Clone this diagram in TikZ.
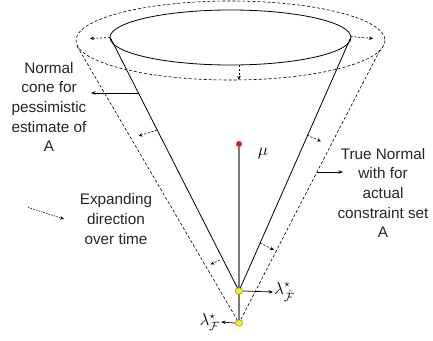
\documentclass[tikz,border=0pt]{standalone}
\usepackage{fontspec}
\setmainfont{Liberation Sans}
\usepackage{amsmath,amssymb}
\usetikzlibrary{arrows.meta,positioning,shapes.geometric}
\definecolor{DotRed}{HTML}{E8141B}
\definecolor{DotYellow}{HTML}{F5EE1A}
\definecolor{AxisGray}{HTML}{7A7A7A}
\begin{document}
\begin{tikzpicture}[x=1pt,y=-1pt,
  lbl/.style={align=center,font=\fontsize{15.3}{19.6}\selectfont,text=black!85},
  ydot/.style={ellipse,draw=black!55,fill=DotYellow,minimum width=8pt,minimum height=6.5pt,inner sep=0pt},
  rdot/.style={circle,draw=black!40,fill=DotRed,minimum size=6pt,inner sep=0pt},
  nrm/.style={-{Stealth[length=4pt,width=3.5pt]},dash pattern=on 2.2pt off 1.6pt,line width=0.6pt},
  arr/.style={-{Stealth[length=4.5pt,width=3.5pt]},line width=0.7pt},
  solidln/.style={line width=0.8pt},
  dashln/.style={line width=0.6pt,dash pattern=on 3pt off 2pt}]
\useasboundingbox (0,0) rectangle (433,340);
% apexes and rim points
\coordinate (apin) at (239,291);
\coordinate (apout) at (239,323);
\coordinate (inL) at (110.5,38);
\coordinate (inR) at (350.5,38);
\coordinate (outL) at (77,46);
\coordinate (outR) at (381,48);
% cones
\draw[dashln] (230.5,40.5) ellipse [x radius=154.5, y radius=39.5];
\draw[solidln] (230.5,37.5) ellipse [x radius=120.5, y radius=27.5];
\draw[solidln] (inL) -- (apin) -- (inR);
\draw[dashln] (outL) -- (apout) -- (outR);
% mu axis
\coordinate (mupt) at (239,144);
\draw[AxisGray,line width=1.3pt] (mupt) -- (apout);
% expanding normals
\foreach \a/\b in {{110,37.5}/{90,38.5},{350.5,36.5}/{373,38.5},{239,65}/{239,80},
  {157,130}/{138.5,136},{220,260}/{210.5,264.5},{307,135}/{321,141.5},{260,243}/{274,250}}{
  \draw[nrm] (\a) -- (\b);
}
% labels
\node[lbl] (ncone) at (49,107) {Normal\\cone for\\pessimistic\\estimate of\\A};
\node[lbl] (expand) at (116,219) {Expanding\\direction\\over time};
\node[lbl] (tnorm) at (383,193) {True Normal\\with for\\actual\\constraint set\\A};
\coordinate (nconeS) at (138,93);
\coordinate (nconeE) at (91,93);
\draw[arr] (nconeS) -- (nconeE);
\coordinate (tnormS) at (317,172);
\coordinate (tnormE) at (343,172);
\draw[arr] (tnormS) -- (tnormE);
\coordinate (expS) at (28,207.5);
\coordinate (expE) at (64,219);
\draw[-{Stealth[length=4pt,width=3.5pt]},dash pattern=on 1.5pt off 1.2pt,line width=0.6pt] (expS) -- (expE);
% points
\node[rdot] (mu) at (mupt) {};
\node[ydot] (lamhat) at (apin) {};
\node[ydot] (lam) at (apout) {};
\node[font=\fontsize{19}{19}\selectfont] (mulbl) at (263,153) {$\mu$};
\node[font=\fontsize{17}{17}\selectfont,anchor=west,inner sep=1pt] (lamhatlbl) at (273,292) {$\lambda^\star_{\hat{\mathcal{F}}}$};
\node[font=\fontsize{17}{17}\selectfont,anchor=east,inner sep=1pt] (lamlbl) at (221,322) {$\lambda^\star_{\mathcal{F}}$};
\draw[arr] (lamhat.east) -- (lamhatlbl.west);
\draw[arr] (lam.west) -- (lamlbl.east);
\end{tikzpicture}
\end{document}
